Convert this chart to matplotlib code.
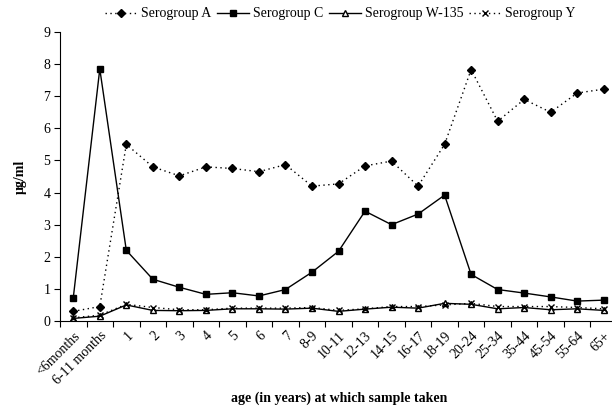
import matplotlib
matplotlib.use("Agg")
import matplotlib.pyplot as plt
import numpy as np

categories = ["<6months", "6-11 months", "1", "2", "3", "4", "5", "6", "7", "8-9",
              "10-11", "12-13", "14-15", "16-17", "18-19", "20-24", "25-34",
              "35-44", "45-54", "55-64", "65+"]
sero_A = [0.30, 0.45, 5.50, 4.80, 4.52, 4.80, 4.75, 4.65, 4.87, 4.20, 4.27,
          4.83, 4.98, 4.20, 5.50, 7.83, 6.22, 6.90, 6.50, 7.10, 7.22]
sero_C = [0.72, 7.85, 2.20, 1.30, 1.05, 0.83, 0.88, 0.78, 0.98, 1.52, 2.17,
          3.42, 3.00, 3.33, 3.92, 1.45, 0.98, 0.87, 0.75, 0.62, 0.65]
sero_W = [0.08, 0.15, 0.50, 0.33, 0.32, 0.33, 0.38, 0.38, 0.37, 0.40, 0.30,
          0.37, 0.43, 0.40, 0.55, 0.52, 0.38, 0.42, 0.35, 0.38, 0.33]
sero_Y = [0.10, 0.18, 0.52, 0.42, 0.35, 0.35, 0.40, 0.40, 0.40, 0.42, 0.33,
          0.38, 0.45, 0.45, 0.50, 0.55, 0.45, 0.45, 0.45, 0.42, 0.38]
yticks = list(range(0, 10))

plt.rcParams['font.family'] = ['Liberation Serif', 'DejaVu Serif']

fig = plt.figure(figsize=(6.12, 4.11), dpi=100)
ax = fig.add_axes([60/612, 1-321/411, 557/612, 289/411])

x = np.arange(len(categories))
lA, = ax.plot(x, sero_A, color='black', linestyle=(0, (1, 2.5)), linewidth=1.0,
              marker='D', markersize=4, label='Serogroup A')
lC, = ax.plot(x, sero_C, color='black', linestyle='-', linewidth=1.0,
              marker='s', markersize=5, label='Serogroup C')
lW, = ax.plot(x, sero_W, color='black', linestyle='-', linewidth=1.0,
              marker='^', markersize=5, markerfacecolor='white', label='Serogroup W-135')
lY, = ax.plot(x, sero_Y, color='black', linestyle=(0, (1, 2.5)), linewidth=1.0,
              marker='x', markersize=4, label='Serogroup Y')

ax.set_xlim(-0.5, len(categories) - 0.5)
ax.set_ylim(0, 9)
ax.set_yticks(yticks)
ax.set_yticklabels([str(v) for v in yticks], fontsize=10)

ax.set_xticks(np.arange(len(categories) + 1) - 0.5)
ax.set_xticklabels([])
ax.tick_params(axis='x', which='major', direction='out', length=4)
ax.set_xticks(x, minor=True)
ax.set_xticklabels(categories, minor=True, rotation=45, ha='right',
                   va='top', rotation_mode='anchor', fontsize=10)
ax.tick_params(axis='x', which='minor', length=0, pad=6)
ax.tick_params(axis='y', direction='out', length=4, pad=3)

for s in ['top', 'right']:
    ax.spines[s].set_visible(False)

ax.set_ylabel('μg/ml', fontsize=10, fontweight='bold', labelpad=12)
fig.text(0.555, 1-398/411, 'age (in years) at which sample taken',
         ha='center', va='center', fontsize=10, fontweight='bold')

fig.legend(handles=[lA, lC, lW, lY], loc='center', bbox_to_anchor=(0.556, 1-14/411),
           ncol=4, frameon=False, fontsize=10, handlelength=2.3,
           columnspacing=0.4, handletextpad=0.3)

fig.savefig('out.png', dpi=100)
